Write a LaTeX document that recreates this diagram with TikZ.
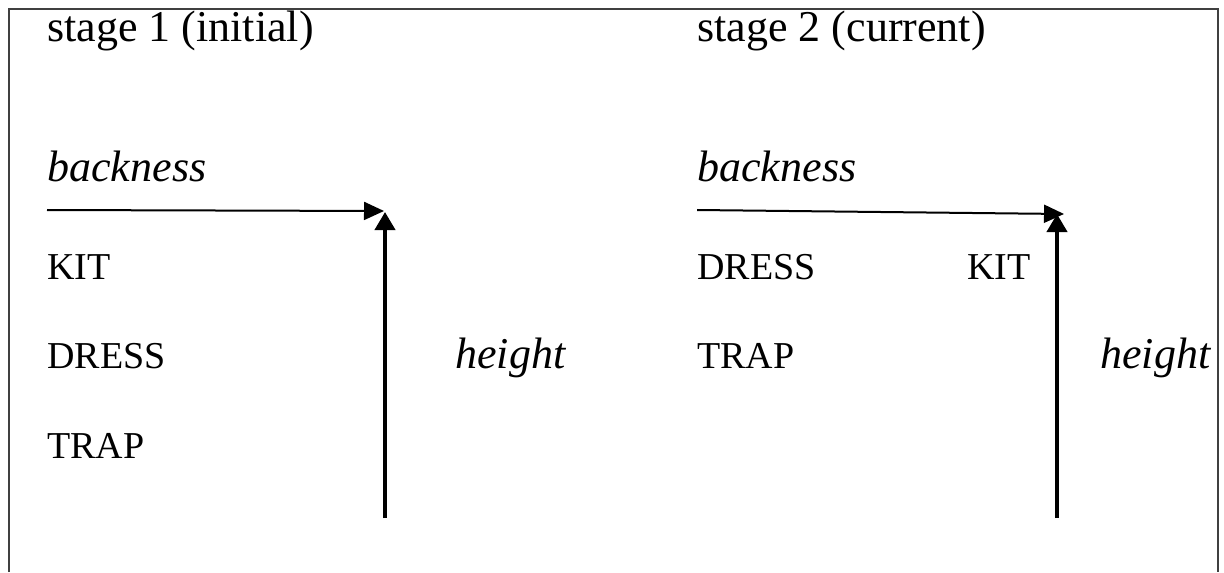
\documentclass[tikz,border=0pt]{standalone}
\usepackage{fontspec}
\setmainfont{Liberation Serif}
\usetikzlibrary{arrows.meta,positioning}
\tikzset{stagetitle/.style={anchor=base west,inner sep=0,font=\fontsize{22}{26}\selectfont},
    axislabel/.style={anchor=base west,inner sep=0,font=\fontsize{22}{26}\selectfont\itshape},
    vowelword/.style={anchor=base west,inner sep=0,font=\fontsize{19}{23}\selectfont},
    backarrow/.style={line width=1pt,-{Triangle[length=10pt,width=9pt]}},
    heightarrow/.style={line width=2pt,-{Triangle[length=9pt,width=10pt]}}
}

\begin{document}
\begin{tikzpicture}[x=0.5pt,y=-0.5pt]

\useasboundingbox (0,0) rectangle (1224,572);
\draw [line width=1pt,black!75] (9,572) -- (9,9) -- (1218,9) -- (1218,572);

% stage 1
\node (titleA) [stagetitle] at (47,42) {stage 1 (initial)};
\node (backA) [axislabel] at (47,182) {backness};
\node (kitA) [vowelword] at (47,279) {KIT};
\node (dressA) [vowelword] at (47,368) {DRESS};
\node (trapA) [vowelword] at (47,458) {TRAP};
\node (heightA) [axislabel] at (455,368) {height};

\coordinate (backstartA) at (47,210);
\coordinate (backendA) at (384,211);
\coordinate (heightstartA) at (385,518);
\coordinate (heightendA) at (385,212);
\draw [backarrow] (backstartA) -- (backendA);
\draw [heightarrow] (heightstartA) -- (heightendA);

% stage 2
\node (titleB) [stagetitle] at (697,42) {stage 2 (current)};
\node (backB) [axislabel] at (697,182) {backness};
\node (dressB) [vowelword] at (697,279) {DRESS};
\node (kitB) [vowelword] at (967,279) {KIT};
\node (trapB) [vowelword] at (697,368) {TRAP};
\node (heightB) [axislabel] at (1100,368) {height};

\coordinate (backstartB) at (697,210);
\coordinate (backendB) at (1064,214);
\coordinate (heightstartB) at (1057,518);
\coordinate (heightendB) at (1057,214);
\draw [backarrow] (backstartB) -- (backendB);
\draw [heightarrow] (heightstartB) -- (heightendB);

\end{tikzpicture}
\end{document}
